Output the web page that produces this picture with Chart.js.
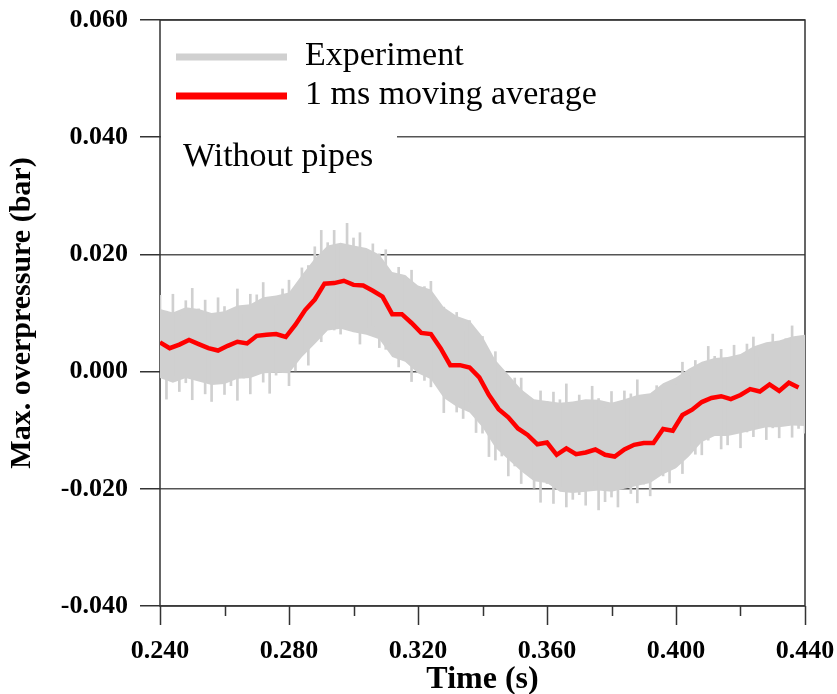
<!DOCTYPE html>
<html lang="en">
<head>
    <meta charset="UTF-8">
    <title>Max. overpressure - without pipes</title>
    <script src="https://cdn.jsdelivr.net/npm/chart.js"></script>
    <style>
        * { margin: 0; padding: 0; box-sizing: border-box; }
        body { background: #ffffff; }
        #wrap { width: 837px; height: 694px; position: relative; }
    </style>
</head>
<body>
    <div id="wrap"><canvas id="pressureChart"></canvas></div>

    <script>
        // tick positions
        const xTicks = [0.24, 0.28, 0.32, 0.36, 0.40, 0.44];
        const xMinorTicks = [0.26, 0.30, 0.34, 0.38, 0.42];
        const yTicks = [-0.04, -0.02, 0, 0.02, 0.04, 0.06];

        // experiment: dense core of the grey band, read every 4 ms
        const coreTime = [
            0.240, 0.244, 0.248, 0.252, 0.256, 0.260, 0.264, 0.268, 0.272, 0.276,
            0.280, 0.284, 0.288, 0.292, 0.296, 0.300, 0.304, 0.308, 0.312, 0.316,
            0.320, 0.324, 0.328, 0.332, 0.336, 0.340, 0.344, 0.348, 0.352, 0.356,
            0.360, 0.364, 0.368, 0.372, 0.376, 0.380, 0.384, 0.388, 0.392, 0.396,
            0.400, 0.404, 0.408, 0.412, 0.416, 0.420, 0.424, 0.428, 0.432, 0.436,
            0.440
        ];
        const coreHigh = [
            0.0107, 0.0101, 0.0110, 0.0107, 0.0100, 0.0103, 0.0113, 0.0115, 0.0127, 0.0130,
            0.0135, 0.0165, 0.0193, 0.0215, 0.0220, 0.0215, 0.0211, 0.0200, 0.0170, 0.0165,
            0.0147, 0.0140, 0.0110, 0.0095, 0.0087, 0.0060, 0.0020, -0.0005, -0.0030, -0.0047,
            -0.0050, -0.0053, -0.0051, -0.0047, -0.0048, -0.0053, -0.0047, -0.0040, -0.0037, -0.0020,
            -0.0010, 0.0005, 0.0017, 0.0023, 0.0025, 0.0030, 0.0043, 0.0050, 0.0053, 0.0060,
            0.0063
        ];
        const coreLow = [
            -0.0011, -0.0019, -0.0011, -0.0017, -0.0023, -0.0021, -0.0012, -0.0011, -0.0003, -0.0002,
            -0.0003, 0.0025, 0.0047, 0.0070, 0.0073, 0.0067, 0.0063, 0.0055, 0.0025, 0.0017,
            -0.0003, -0.0013, -0.0045, -0.0060, -0.0070, -0.0095, -0.0130, -0.0150, -0.0170, -0.0187,
            -0.0190, -0.0205, -0.0207, -0.0205, -0.0203, -0.0205, -0.0200, -0.0195, -0.0190, -0.0175,
            -0.0165, -0.0145, -0.0120, -0.0110, -0.0110, -0.0105, -0.0100, -0.0095, -0.0095, -0.0092,
            -0.0093
        ];

        // experiment: noise spikes (top / bottom of the grey traces), every 2 ms
        const expTime = [
            0.240, 0.242, 0.244, 0.246, 0.248, 0.250, 0.252, 0.254, 0.256, 0.258,
            0.260, 0.262, 0.264, 0.266, 0.268, 0.270, 0.272, 0.274, 0.276, 0.278,
            0.280, 0.282, 0.284, 0.286, 0.288, 0.290, 0.292, 0.294, 0.296, 0.298,
            0.300, 0.302, 0.304, 0.306, 0.308, 0.310, 0.312, 0.314, 0.316, 0.318,
            0.320, 0.322, 0.324, 0.326, 0.328, 0.330, 0.332, 0.334, 0.336, 0.338,
            0.340, 0.342, 0.344, 0.346, 0.348, 0.350, 0.352, 0.354, 0.356, 0.358,
            0.360, 0.362, 0.364, 0.366, 0.368, 0.370, 0.372, 0.374, 0.376, 0.378,
            0.380, 0.382, 0.384, 0.386, 0.388, 0.390, 0.392, 0.394, 0.396, 0.398,
            0.400, 0.402, 0.404, 0.406, 0.408, 0.410, 0.412, 0.414, 0.416, 0.418,
            0.420, 0.422, 0.424, 0.426, 0.428, 0.430, 0.432, 0.434, 0.436, 0.438,
            0.440
        ];
        const expHigh = [
            0.0130, 0.0103, 0.0132, 0.0096, 0.0121, 0.0142, 0.0107, 0.0122, 0.0089, 0.0126,
            0.0111, 0.0106, 0.0141, 0.0099, 0.0132, 0.0131, 0.0152, 0.0123, 0.0114, 0.0141,
            0.0156, 0.0140, 0.0177, 0.0181, 0.0213, 0.0241, 0.0220, 0.0241, 0.0214, 0.0253,
            0.0228, 0.0237, 0.0204, 0.0218, 0.0201, 0.0208, 0.0148, 0.0178, 0.0163, 0.0173,
            0.0132, 0.0145, 0.0154, 0.0098, 0.0110, 0.0081, 0.0101, 0.0070, 0.0087, 0.0046,
            0.0060, 0.0020, 0.0034, 0.0001, -0.0028, -0.0011, -0.0011, -0.0048, -0.0049, -0.0033,
            -0.0051, -0.0035, -0.0048, -0.0021, -0.0058, -0.0040, -0.0068, -0.0025, -0.0046, -0.0062,
            -0.0034, -0.0071, -0.0033, -0.0038, -0.0014, -0.0042, -0.0042, -0.0024, -0.0048, -0.0020,
            -0.0022, 0.0016, -0.0008, 0.0019, -0.0002, 0.0043, 0.0026, 0.0038, 0.0015, 0.0045,
            0.0010, 0.0047, 0.0059, 0.0026, 0.0044, 0.0064, 0.0017, 0.0056, 0.0078, 0.0043,
            0.0055
        ];
        const expLow = [
            -0.0010, -0.0047, -0.0008, -0.0034, -0.0019, -0.0048, -0.0013, -0.0038, -0.0051, -0.0014,
            -0.0039, -0.0024, -0.0049, -0.0011, -0.0038, 0.0011, -0.0018, -0.0037, -0.0006, 0.0001,
            -0.0024, 0.0000, 0.0037, 0.0011, 0.0053, 0.0051, 0.0100, 0.0071, 0.0064, 0.0093,
            0.0068, 0.0047, 0.0074, 0.0078, 0.0041, 0.0038, 0.0048, 0.0008, 0.0023, -0.0017,
            0.0012, -0.0015, -0.0026, -0.0022, -0.0070, -0.0049, -0.0069, -0.0080, -0.0053, -0.0104,
            -0.0105, -0.0145, -0.0151, -0.0144, -0.0178, -0.0161, -0.0191, -0.0168, -0.0199, -0.0223,
            -0.0191, -0.0225, -0.0198, -0.0231, -0.0218, -0.0210, -0.0228, -0.0195, -0.0236, -0.0222,
            -0.0214, -0.0231, -0.0193, -0.0208, -0.0224, -0.0192, -0.0212, -0.0174, -0.0178, -0.0190,
            -0.0162, -0.0174, -0.0128, -0.0141, -0.0142, -0.0117, -0.0094, -0.0132, -0.0125, -0.0105,
            -0.0130, -0.0103, -0.0111, -0.0094, -0.0116, -0.0096, -0.0113, -0.0084, -0.0112, -0.0097,
            -0.0105
        ];

        // 1 ms moving average (red)
        const avgTime = [
            0.240, 0.243, 0.246, 0.249, 0.252, 0.255, 0.258, 0.261, 0.264, 0.267,
            0.270, 0.273, 0.276, 0.279, 0.282, 0.285, 0.288, 0.291, 0.294, 0.297,
            0.300, 0.303, 0.306, 0.309, 0.312, 0.315, 0.318, 0.321, 0.324, 0.327,
            0.330, 0.333, 0.336, 0.339, 0.342, 0.345, 0.348, 0.351, 0.354, 0.357,
            0.360, 0.363, 0.366, 0.369, 0.372, 0.375, 0.378, 0.381, 0.384, 0.387,
            0.390, 0.393, 0.396, 0.399, 0.402, 0.405, 0.408, 0.411, 0.414, 0.417,
            0.420, 0.423, 0.426, 0.429, 0.432, 0.435, 0.438
        ];
        const avgValues = [
            0.0050, 0.0040, 0.0046, 0.0054, 0.0047, 0.0040, 0.0036, 0.0044, 0.0051, 0.0048,
            0.0061, 0.0063, 0.0064, 0.0059, 0.0080, 0.0105, 0.0123, 0.0150, 0.0151, 0.0155,
            0.0148, 0.0147, 0.0138, 0.0128, 0.0098, 0.0098, 0.0083, 0.0066, 0.0064, 0.0040,
            0.0011, 0.0011, 0.0007, -0.0010, -0.0040, -0.0064, -0.0078, -0.0097, -0.0108, -0.0124,
            -0.0121, -0.0142, -0.0131, -0.0141, -0.0138, -0.0133, -0.0142, -0.0145, -0.0133, -0.0125,
            -0.0122, -0.0122, -0.0098, -0.0101, -0.0074, -0.0065, -0.0052, -0.0045, -0.0042, -0.0047,
            -0.0040, -0.0030, -0.0034, -0.0022, -0.0033, -0.0019, -0.0027
        ];

        const noteText = 'Without pipes';
        const serif = "'Liberation Serif', 'Times New Roman', serif";
        const greyColor = 'rgb(208, 208, 208)';
        const redColor = '#ff0000';

        const toPoints = (xs, ys) => xs.map((x, i) => ({ x: x, y: ys[i] }));
        const toRanges = (xs, lo, hi) => xs.map((x, i) => ({ x: x, y: [lo[i], hi[i]] }));

        // frame, outward ticks, box behind the note
        const framePlugin = {
            id: 'frame',
            beforeDatasetsDraw(chart) {
                const { ctx, chartArea: a, scales: { x } } = chart;
                ctx.save();
                ctx.fillStyle = '#ffffff';
                ctx.fillRect(a.left + 1, 124, 236, 40);

                ctx.strokeStyle = '#333333';
                ctx.lineWidth = 1.5;
                ctx.strokeRect(a.left, a.top, a.right - a.left, a.bottom - a.top);

                ctx.beginPath();
                xTicks.forEach(v => {
                    const px = Math.round(x.getPixelForValue(v)) + 0.5;
                    ctx.moveTo(px, a.bottom); ctx.lineTo(px, a.bottom + 19);
                });
                xMinorTicks.forEach(v => {
                    const px = Math.round(x.getPixelForValue(v)) + 0.5;
                    ctx.moveTo(px, a.bottom); ctx.lineTo(px, a.bottom + 10);
                });
                ctx.stroke();
                ctx.restore();
            },
            afterDraw(chart) {
                const { ctx } = chart;
                ctx.save();
                ctx.font = '34px ' + serif;
                ctx.fillStyle = '#000';
                ctx.textBaseline = 'alphabetic';

                // legend
                const items = chart.data.datasets.filter(d => d.label);
                items.forEach((d, i) => {
                    const y = 57 + i * 39;
                    ctx.strokeStyle = d.borderWidth ? d.borderColor : d.backgroundColor;
                    ctx.lineWidth = 7;
                    ctx.beginPath();
                    ctx.moveTo(176, y); ctx.lineTo(287, y);
                    ctx.stroke();
                    ctx.fillText(d.label, 305, y + 8);
                });

                ctx.fillText(noteText, 183, 166);
                ctx.restore();
            }
        };

        const ctx = document.getElementById('pressureChart').getContext('2d');
        const chart = new Chart(ctx, {
            type: 'line',
            data: {
                datasets: [
                    {
                        label: 'Experiment',
                        data: toPoints(coreTime, coreHigh),
                        borderWidth: 0,
                        borderColor: greyColor,
                        backgroundColor: greyColor,
                        pointRadius: 0,
                        fill: '+1',
                        order: 3
                    },
                    {
                        data: toPoints(coreTime, coreLow),
                        borderWidth: 0,
                        borderColor: greyColor,
                        backgroundColor: greyColor,
                        pointRadius: 0,
                        fill: false,
                        order: 4
                    },
                    {
                        type: 'bar',
                        data: toRanges(expTime, expLow, expHigh),
                        backgroundColor: greyColor,
                        borderWidth: 0,
                        barThickness: 2,
                        grouped: false,
                        order: 2
                    },
                    {
                        label: '1 ms moving average',
                        data: toPoints(avgTime, avgValues),
                        borderColor: redColor,
                        backgroundColor: redColor,
                        borderWidth: 4.5,
                        pointRadius: 0,
                        fill: false,
                        order: 1
                    }
                ]
            },
            options: {
                responsive: true,
                maintainAspectRatio: false,
                animation: false,
                layout: { padding: 0 },
                plugins: {
                    legend: { display: false },
                    tooltip: { enabled: false }
                },
                scales: {
                    x: {
                        type: 'linear',
                        min: 0.24,
                        max: 0.44,
                        offset: false,
                        afterBuildTicks: s => { s.ticks = xTicks.map(v => ({ value: v })); },
                        afterFit: s => { s.height = 88; s.paddingLeft = 0; s.paddingRight = 32; },
                        grid: { display: false, drawTicks: false, offset: false },
                        border: { display: false },
                        ticks: {
                            padding: 30,
                            maxRotation: 0,
                            autoSkip: false,
                            color: '#000',
                            font: { family: serif, size: 26, weight: 'bold' },
                            callback: v => v.toFixed(3)
                        },
                        title: {
                            display: true,
                            text: 'Time (s)',
                            color: '#000',
                            font: { family: serif, size: 32, weight: 'bold' },
                            padding: { top: 0, bottom: -5 }
                        }
                    },
                    y: {
                        min: -0.04,
                        max: 0.06,
                        afterBuildTicks: s => { s.ticks = yTicks.map(v => ({ value: v })); },
                        afterFit: s => { s.width = 160; s.paddingTop = 20; s.paddingBottom = 0; },
                        grid: {
                            color: '#555555',
                            lineWidth: 1.5,
                            drawTicks: true,
                            tickLength: 20,
                            tickColor: '#333333'
                        },
                        border: { display: false },
                        ticks: {
                            padding: 12,
                            color: '#000',
                            font: { family: serif, size: 26, weight: 'bold' },
                            callback: v => v.toFixed(3)
                        },
                        title: {
                            display: true,
                            text: 'Max. overpressure (bar)',
                            color: '#000',
                            font: { family: serif, size: 30, weight: 'bold' },
                            padding: { top: 4, bottom: 0 }
                        }
                    }
                }
            },
            plugins: [framePlugin]
        });
    </script>
</body>
</html>
